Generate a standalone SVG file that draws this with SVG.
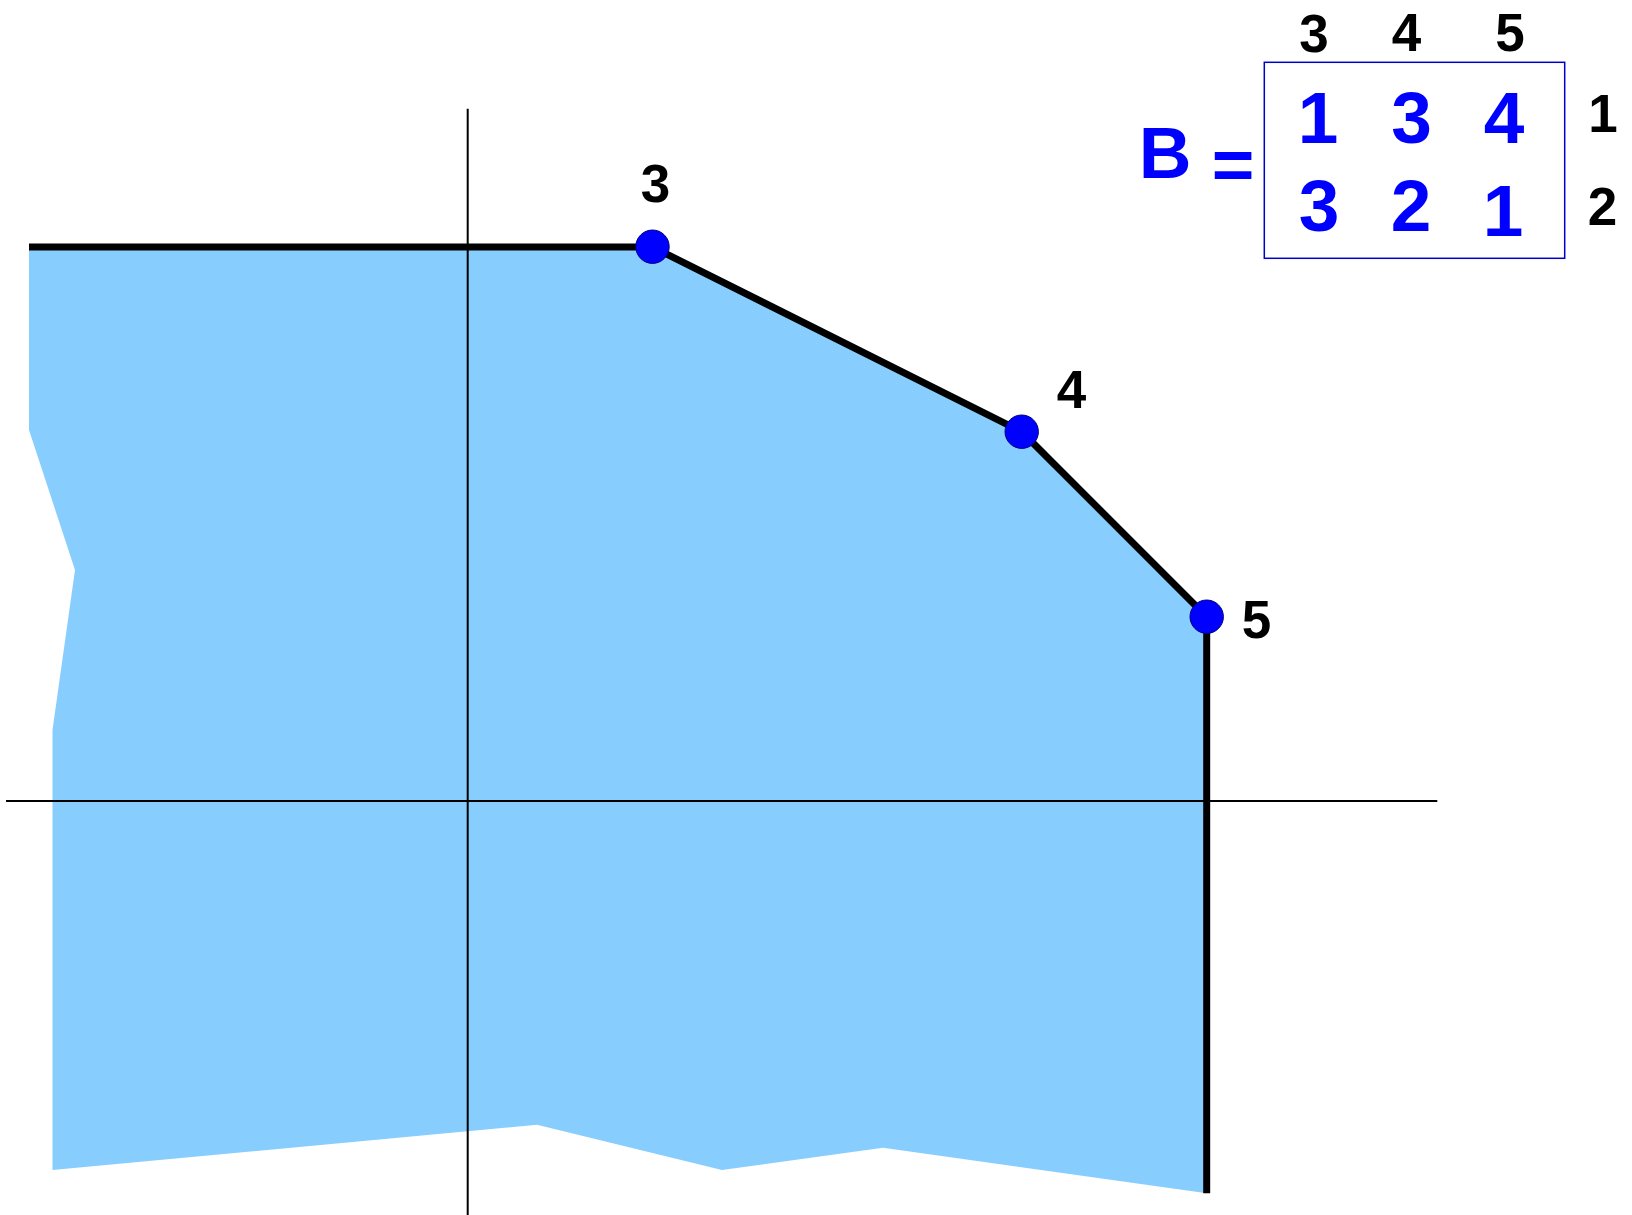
<svg xmlns="http://www.w3.org/2000/svg" width="1632" height="1215" viewBox="0 0 1632 1215">
<style>
.lbl{font-family:"Liberation Sans",Arial,sans-serif;font-weight:bold;font-size:53px;fill:#000;text-anchor:middle}
.mat{font-family:"Liberation Sans",Arial,sans-serif;font-weight:bold;font-size:73px;fill:#0000FF;text-anchor:middle}
.axis{stroke:#000;stroke-width:2;fill:none}
.pt{fill:#0000FF;stroke:#000080;stroke-width:1}
</style>
<rect width="1632" height="1215" fill="#fff"/>
<g id="region">
<polygon points="29,247 652.5,247 1021.7,431.7 1206.7,616.7 1206.7,1193.3 883,1147.7 722,1170 537,1124.7 52.5,1170 52.5,730 75,570 29,430" fill="#87CEFF"/>
</g>
<g id="axes">
<line class="axis" x1="467.7" y1="108.7" x2="467.7" y2="1215"/>
<line class="axis" x1="6" y1="801" x2="1437.3" y2="801"/>
</g>
<g id="connectors">
<polyline points="29,247 652.5,247 1021.7,431.7 1206.7,616.7 1206.7,1193.3" fill="none" stroke="#000" stroke-width="7"/>
</g>
<g id="p3"><circle class="pt" cx="652.5" cy="246.7" r="16.7"/><text class="lbl" x="655.5" y="202">3</text></g>
<g id="p4"><circle class="pt" cx="1021.7" cy="431.7" r="16.7"/><text class="lbl" x="1071.5" y="408">4</text></g>
<g id="p5"><circle class="pt" cx="1206.7" cy="616.7" r="16.7"/><text class="lbl" x="1256.5" y="638">5</text></g>
<g id="matrix">
<rect x="1264.3" y="62.3" width="300.4" height="196" fill="none" stroke="#0000CC" stroke-width="1.5"/>
<text class="mat" x="1165" y="177.7" font-size="74">B</text>
<text class="mat" x="1233" y="188.5" font-size="74">=</text>
<text class="lbl" x="1314" y="51.5">3</text>
<text class="lbl" x="1406.5" y="50.7">4</text>
<text class="lbl" x="1510" y="51">5</text>
<text class="mat" x="1318" y="143.3">1</text>
<text class="mat" x="1411.5" y="143.3">3</text>
<text class="mat" x="1504" y="143.3">4</text>
<text class="mat" x="1319" y="231">3</text>
<text class="mat" x="1411" y="230.7">2</text>
<text class="mat" x="1503" y="235.7">1</text>
<text class="lbl" x="1603" y="131.7">1</text>
<text class="lbl" x="1602.5" y="225">2</text>
</g>
</svg>
